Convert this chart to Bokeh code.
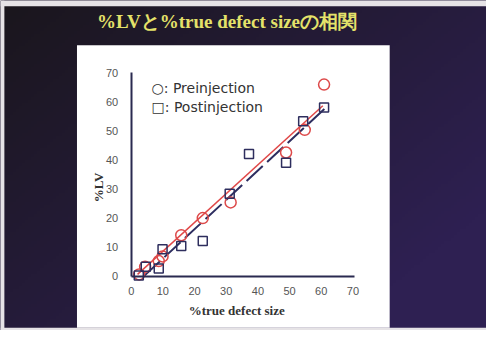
import numpy as np
from bokeh.plotting import figure
from bokeh.models import Range1d, LinearAxis, FixedTicker, Label, BoxAnnotation
from bokeh.embed import file_html
from bokeh.resources import INLINE

# ---- data ----
title_text = "%LVと%true defect sizeの相関"
x_label = "%true defect size"
y_label = "%LV"
legend_pre = "○: Preinjection"
legend_post = "□: Postinjection"
tick_values = [0, 10, 20, 30, 40, 50, 60, 70]

pre_x = [2.5, 4.4, 8.7, 9.9, 15.8, 22.6, 31.4, 48.9, 54.8, 60.9]
pre_y = [0.6, 3.2, 5.2, 6.8, 14.1, 20.0, 25.4, 42.6, 50.4, 66.0]
post_x = [2.4, 4.6, 8.7, 9.9, 15.8, 22.6, 31.1, 37.2, 48.9, 54.3, 60.9]
post_y = [0.2, 3.2, 2.6, 9.3, 10.4, 12.1, 28.4, 42.1, 39.1, 53.4, 58.1]

pre_fit_x = [2.0, 60.5]
pre_fit_y = [0.6, 58.7]
post_fit_x = [4.0, 61.0]
post_fit_y = [0.0, 57.6]

# ---- layout: reference pixel positions scaled into the figure ----
W, H = 486, 330
FX, FY = W / 502.0, H / 346.0
X0 = 135 * FX
SX = (364 * FX - X0) / 70.0
Y0 = 289 * FY
SY = (Y0 - 76 * FY) / 70.0


def dx(rx):
    return (rx * FX - X0) / SX


def dy(ry):
    return (Y0 - ry * FY) / SY


x_start, x_end = dx(0), dx(502)
y_start, y_end = dy(346), dy(0)

p = figure(width=W, height=H, min_border=0, toolbar_location=None,
           output_backend="svg", x_axis_location=None, y_axis_location=None,
           x_range=Range1d(x_start, x_end), y_range=Range1d(y_start, y_end))
p.grid.visible = False
p.outline_line_color = None
p.background_fill_color = "#251a3a"
p.border_fill_color = "#251a3a"

# dark slide background with a soft gradient
nx, ny = 160, 110
u = np.linspace(0, 1, nx)[None, :]
v = 1 - np.linspace(0, 1, ny)[:, None]   # row 0 is bottom
t = np.clip(0.65 * u + 0.55 * v, 0, 1)
c0 = np.array([26, 22, 28])
c1 = np.array([46, 32, 82])
img = np.empty((ny, nx), dtype=np.uint32)
view = img.view(dtype=np.uint8).reshape((ny, nx, 4))
for k in range(3):
    view[:, :, k] = (c0[k] + (c1[k] - c0[k]) * t).astype(np.uint8)
view[:, :, 3] = 255
p.image_rgba(image=[img], x=x_start, y=y_start, dw=x_end - x_start,
             dh=y_end - y_start, level="image")

# light photo border (top, left, bottom)
for l, r, tp, b in [(0, 502, 0, 6), (0, 4, 0, 346), (0, 502, 343, 346)]:
    p.add_layout(BoxAnnotation(left=dx(l), right=dx(r), top=dy(tp), bottom=dy(b),
                               fill_color="#e6e3e6", fill_alpha=1.0,
                               line_color=None, level="underlay"))

# white chart panel
p.add_layout(BoxAnnotation(left=dx(79), right=dx(402), top=dy(47), bottom=dy(343),
                           fill_color="white", fill_alpha=1.0, line_color=None,
                           level="underlay"))

# axes placed at the data origin
xaxis = LinearAxis(fixed_location=0, bounds=(0, 70.5),
                   ticker=FixedTicker(ticks=tick_values))
yaxis = LinearAxis(fixed_location=0, bounds=(0, 70),
                   ticker=FixedTicker(ticks=tick_values))
for ax in (xaxis, yaxis):
    ax.axis_line_color = "#2a2a50"
    ax.axis_line_width = 2
    ax.major_tick_line_color = None
    ax.minor_tick_line_color = None
    ax.major_tick_in = 0
    ax.major_tick_out = 0
    ax.major_label_text_font = "Liberation Sans"
    ax.major_label_text_font_size = "11px"
    ax.major_label_text_color = "#555555"
xaxis.major_label_standoff = 11
yaxis.major_label_standoff = 13
p.add_layout(xaxis, "below")
p.add_layout(yaxis, "left")

# regression lines
p.line(pre_fit_x, pre_fit_y, line_color="#e04848", line_width=1.5)
p.line(post_fit_x, post_fit_y, line_color="#2e2e60", line_width=2,
       line_dash="22 6")

# points
p.scatter(pre_x, pre_y, marker="circle", size=11, fill_color=None,
          line_color="#dd4a4a", line_width=1.5)
p.scatter(post_x, post_y, marker="square", size=9, fill_color=None,
          line_color="#2e2e5e", line_width=1.5)

# texts
p.add_layout(Label(x=dx(234), y=dy(22.5), text=title_text,
                   text_align="center", text_baseline="middle",
                   text_font="Liberation Serif", text_font_style="bold",
                   text_font_size="19px", text_color="#e4e26a"))
p.add_layout(Label(x=dx(156), y=dy(92), text=legend_pre,
                   text_align="left", text_baseline="middle",
                   text_font="DejaVu Sans", text_font_size="14px",
                   text_color="#333333"))
p.add_layout(Label(x=dx(156), y=dy(112), text=legend_post,
                   text_align="left", text_baseline="middle",
                   text_font="DejaVu Sans", text_font_size="14px",
                   text_color="#333333"))
p.add_layout(Label(x=dx(244), y=dy(325), text=x_label,
                   text_align="center", text_baseline="middle",
                   text_font="Liberation Serif", text_font_style="bold",
                   text_font_size="13px", text_color="#333333"))
p.add_layout(Label(x=dx(101), y=dy(196), text=y_label, angle=np.pi / 2,
                   text_align="center", text_baseline="middle",
                   text_font="Liberation Serif", text_font_style="bold",
                   text_font_size="13px", text_color="#333333"))

open("out.html", "w").write(file_html(p, INLINE))
